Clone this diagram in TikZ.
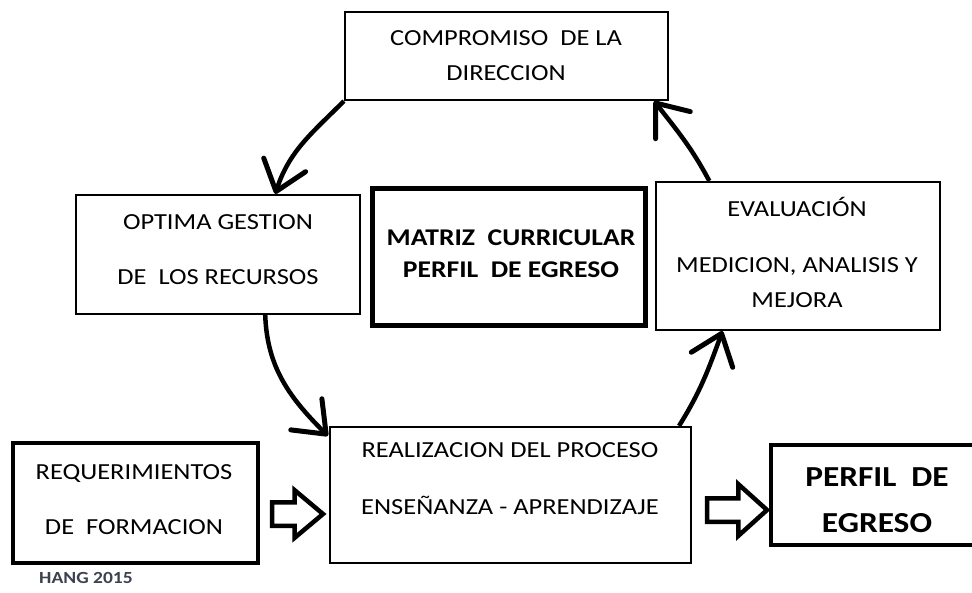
\documentclass[tikz,border=0pt]{standalone}
\usepackage{fontspec}
\setmainfont{Carlito}[FakeStretch=1.15]
\usetikzlibrary{arrows.meta,shapes.arrows,calc}
\begin{document}
\begin{tikzpicture}[x=1pt,y=-1pt,
  box/.style={draw,line width=2.2pt,inner sep=0pt,fill=white},
  txt/.style={align=center,inner sep=0pt,font=\fontsize{23}{35}\selectfont},
  cyc/.style={line width=4.5pt,-{Straight Barb[length=28pt,width=44pt,line width=5pt,round]}},
  fatarrow/.style={shape=single arrow,draw,line width=4.5pt,fill=white,inner sep=0pt,
    text width=0pt,text height=9.5pt,text depth=9.5pt,single arrow head extend=12pt,
    single arrow tip angle=80}
]
\clip (0,0) rectangle (972,593);
\fill[white] (0,0) rectangle (972,593);
% boxes
\node[box,minimum width=323pt,minimum height=88pt] (comp) at (506.5,56) {};
\node[box,minimum width=284pt,minimum height=119pt] (optima) at (218,254.5) {};
\node[box,line width=5pt,minimum width=273pt,minimum height=137pt] (matriz) at (508.5,257.5) {};
\node[box,minimum width=284pt,minimum height=148pt] (eval) at (798,256) {};
\node[box,line width=3.2pt,minimum width=245pt,minimum height=120pt] (req) at (135.5,503) {};
\node[box,minimum width=361pt,minimum height=136pt] (real) at (510.5,495) {};
\node[box,line width=4pt,minimum width=210pt,minimum height=100pt] (perfil) at (876,494.5) {};
% texts
\node[txt] (compt) at (506,56) {COMPROMISO\ \ DE LA\\DIRECCION};
\node[txt] (optimat) at (218,249.5) {OPTIMA GESTION\\[20pt]DE\ \ LOS RECURSOS};
\node[txt,font=\bfseries\fontsize{24}{32}\selectfont] (matrizt) at (511,254) {MATRIZ\ \ CURRICULAR\\PERFIL\ \ DE EGRESO};
\node[txt] (evalt) at (797,252.5) {EVALUACIÓN\\[21pt]MEDICION, ANALISIS Y\\MEJORA};
\node[txt] (reqt) at (134,499.5) {REQUERIMIENTOS\\[20pt]DE\ \ FORMACION};
\node[txt] (realt) at (510,478.5) {REALIZACION DEL PROCESO\\[22pt]ENSEÑANZA - APRENDIZAJE};
\node[txt,font=\bfseries\fontsize{29}{46}\selectfont] (perfilt) at (877,500) {PERFIL\ \ DE\\EGRESO};
\node[inner sep=0pt,font=\bfseries\fontsize{17}{20}\selectfont,text={rgb,255:red,60;green,66;blue,80}] (hang) at (86,578) {HANG 2015};
% cycle arrows
\draw[cyc] (comp.south west) to[out=225,in=72] ($(optima.north west)!0.70!(optima.north east)$);
\draw[cyc] ($(optima.south west)!0.665!(optima.south east)$) to[out=272,in=135] ($(real.north west)+(-1,10)$);
\draw[cyc] ($(real.north west)!0.964!(real.north east)$) to[out=58,in=250] ($(eval.south west)!0.236!(eval.south east)$);
\draw[cyc] ($(eval.north west)!0.19!(eval.north east)$) to[out=118,in=-52] ($(comp.south west)!0.954!(comp.south east)$);
% hollow arrows
\node[fatarrow,minimum height=51pt] (fa1) at (290.5,514) {};
\node[fatarrow,minimum height=60pt,single arrow head extend=14pt,single arrow tip angle=84] (fa2) at (730.5,510) {};
\end{tikzpicture}
\end{document}
